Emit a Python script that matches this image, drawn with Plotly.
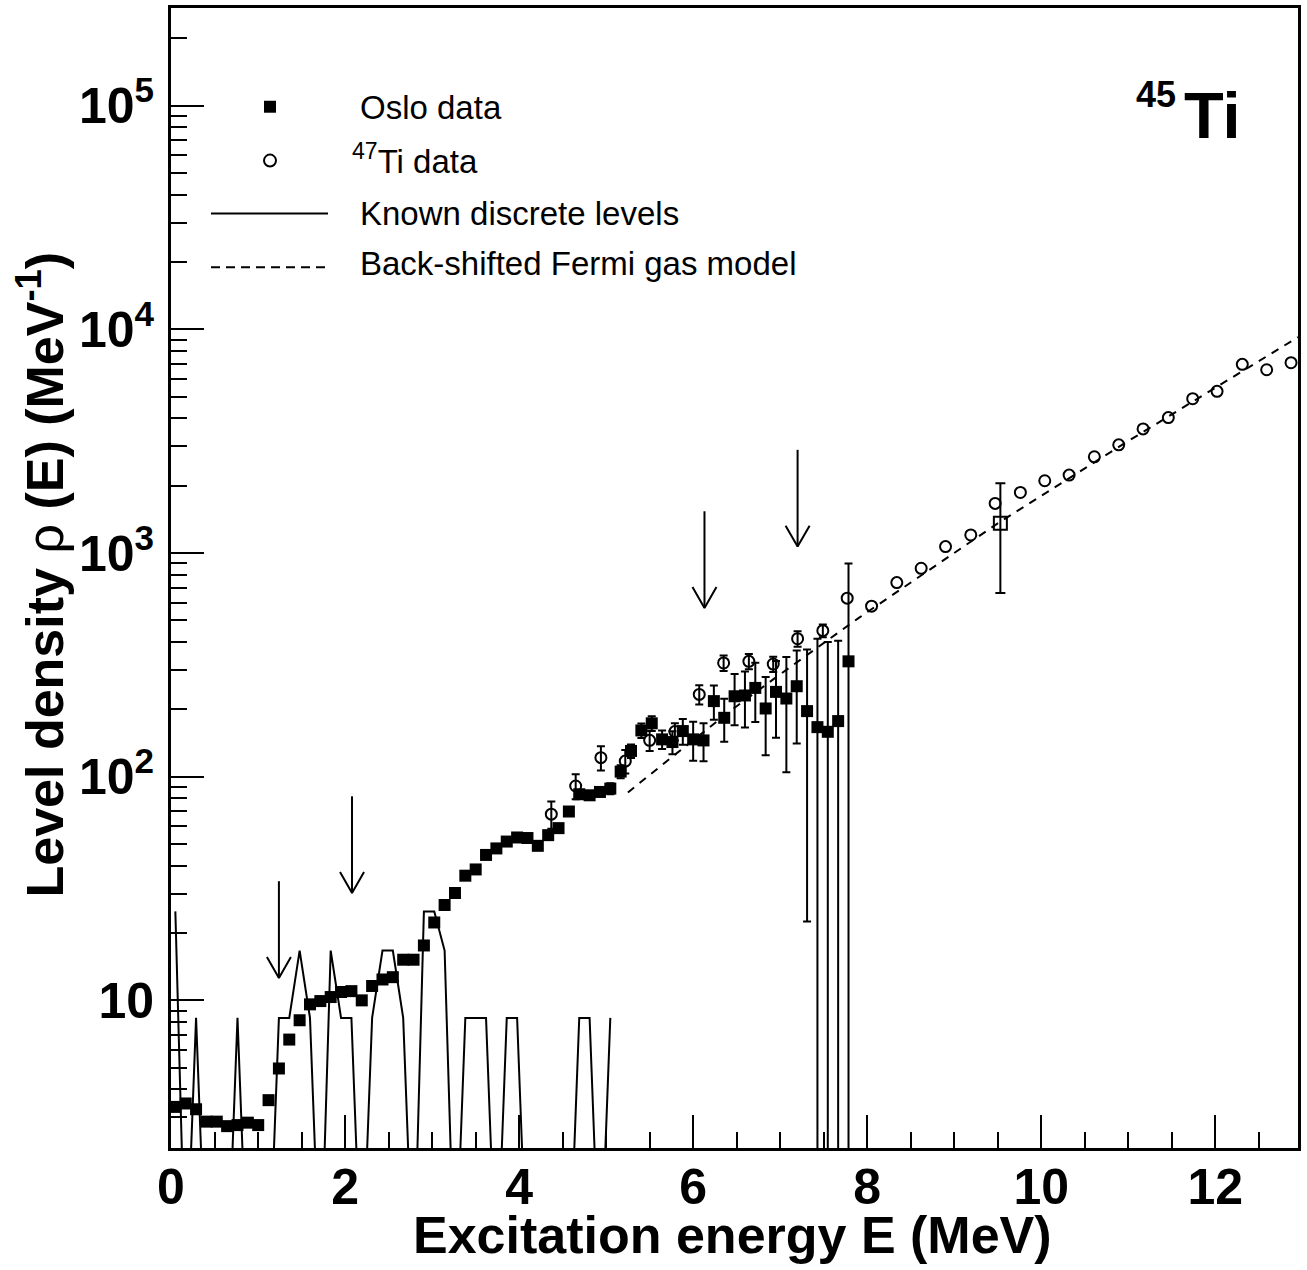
import plotly.graph_objects as go

# Oslo data (filled squares), 0.12 MeV bins
oslo_e = [0.050, 0.169, 0.288, 0.407, 0.526, 0.645, 0.764, 0.883, 1.002, 1.121,
          1.240, 1.359, 1.478, 1.597, 1.716, 1.835, 1.954, 2.073, 2.192, 2.311,
          2.430, 2.549, 2.668, 2.787, 2.906, 3.025, 3.144, 3.263, 3.382, 3.501,
          3.620, 3.739, 3.858, 3.977, 4.096, 4.215, 4.334, 4.453, 4.572, 4.691,
          4.810, 4.929, 5.048, 5.167, 5.286, 5.405, 5.524, 5.643, 5.762, 5.881,
          6.000, 6.119, 6.238, 6.357, 6.476, 6.595, 6.714, 6.833, 6.952, 7.071,
          7.190, 7.309, 7.428, 7.547, 7.666, 7.785]
oslo_rho = [3.34, 3.46, 3.26, 2.87, 2.87, 2.74, 2.77, 2.84, 2.77, 3.58,
            4.96, 6.68, 8.15, 9.6, 9.93, 10.35, 10.9, 11.0, 10.0, 11.6,
            12.4, 12.7, 15.2, 15.2, 17.6, 22.3, 26.7, 30.2, 36.1, 38.5,
            44.7, 47.8, 51.3, 53.5, 53.2, 49.1, 54.8, 58.9, 69.9, 83.5,
            82.6, 85.5, 88.5, 105.4, 130.4, 161, 173.3, 146.9, 142.9, 160,
            146.9, 145.3, 217.8, 183.4, 229, 230.8, 249.5, 201.9, 239.5, 223.7,
            253.9, 196.5, 166.6, 158.8, 177.3, 328]
oslo_err = [0, 0, 0, 0, 0, 0, 0, 0, 0, 0,
            0, 0, 0, 0, 0, 0, 0, 0, 0, 0,
            0, 0, 0, 0, 0, 0, 0, 0, 0, 0,
            0, 0, 0, 0, 0, 0, 0, 0, 0, 0,
            0, 4, 5, 7, 9, 12, 13, 14, 17, 21,
            29, 28, 38, 40, 59, 65, 74, 77, 90, 119,
            113, 174, 247, 241, 228, 570]

# 47Ti data (open circles); error bars only visible on the first ones
ti47_e = [4.37, 4.65, 4.94, 5.22, 5.50, 5.79, 6.07, 6.35, 6.64, 6.92,
          7.20, 7.49, 7.77, 8.05, 8.34, 8.62, 8.90, 9.19, 9.47, 9.76,
          10.04, 10.32, 10.61, 10.89, 11.17, 11.46, 11.74, 12.02, 12.31, 12.59,
          12.87]
ti47_rho = [68.0, 90.9, 121.7, 117.5, 145.4, 159.2, 233.3, 322.6, 328, 319,
            414, 449.8, 628.6, 579, 738, 855, 1069, 1205, 1667, 1866,
            2105, 2232, 2694, 3047, 3591, 4035, 4899, 5287, 6980, 6602,
            7096]
ti47_err = [9.5, 11.7, 15, 14, 15, 14, 23, 26, 26, 25, 33, 30]

# level density at Bn (open square)
bn_e = [9.53]
bn_rho = [1358]
bn_err = [695]

# known discrete levels, same bins as the Oslo data (0 = empty bin)
known_rho = [25.0, 0, 8.35, 0, 0, 0, 8.35, 0, 0, 0,
             8.35, 8.35, 16.7, 8.35, 0, 16.7, 8.35, 8.35, 0, 8.35,
             16.7, 16.7, 8.35, 0, 25.0, 25.0, 16.7, 0, 8.35, 8.35,
             8.35, 0, 8.35, 8.35, 0, 0, 0, 0, 0, 8.35,
             8.35, 0, 8.35]

# back-shifted Fermi gas model
bsfg_e = [5.25, 5.75, 6.45, 7.0, 7.9, 9.5, 10.9, 12.95]
bsfg_rho = [85, 122, 200, 287, 512, 1358, 3000, 9230]

# arrows: energy and value at the arrow tip
arrow_e = [1.24, 2.08, 6.13, 7.20]
arrow_tip = [12.6, 30.2, 568, 1069]

FONT = "Liberation Sans, Arial, Helvetica, sans-serif"
X_RANGE = [0, 12.95]
Y_RANGE = [0.340, 5.437]

# plot frame in pixels
L, T, W, H = 171, 5, 1127, 1143


def px(xp):
    return (xp - L) / W


def py(yp):
    return (T + H - yp) / H


decade_px = H / (Y_RANGE[1] - Y_RANGE[0])
mev_px = W / X_RANGE[1]

fig = go.Figure()

# discrete levels: empty bins drawn below the frame
known_plot = [r if r > 0 else 0.5 for r in known_rho]
fig.add_trace(go.Scatter(x=oslo_e[:len(known_rho)], y=known_plot, mode='lines',
                         line=dict(color='black', width=2)))

fig.add_trace(go.Scatter(x=bsfg_e, y=bsfg_rho, mode='lines',
                         line=dict(color='black', width=2, dash='8px,7px')))

n = len(ti47_err)
fig.add_trace(go.Scatter(x=ti47_e[:n], y=ti47_rho[:n], mode='markers',
                         marker=dict(symbol='circle-open', size=11, color='black',
                                     line=dict(width=2, color='black')),
                         error_y=dict(type='data', array=ti47_err, thickness=2, width=4,
                                      color='black')))
fig.add_trace(go.Scatter(x=ti47_e[n:], y=ti47_rho[n:], mode='markers',
                         marker=dict(symbol='circle-open', size=11, color='black',
                                     line=dict(width=2, color='black'))))

fig.add_trace(go.Scatter(x=oslo_e, y=oslo_rho, mode='markers',
                         marker=dict(symbol='square', size=12, color='black'),
                         error_y=dict(type='data', array=oslo_err, thickness=2, width=4,
                                      color='black')))

fig.add_trace(go.Scatter(x=bn_e, y=bn_rho, mode='markers',
                         marker=dict(symbol='square-open', size=13, color='black',
                                     line=dict(width=2, color='black')),
                         error_y=dict(type='data', array=bn_err, thickness=2, width=5,
                                      color='black')))

# arrows with open heads
shaft = 10 ** (97 / decade_px)
head = 10 ** (21 / decade_px)
hw = 12 / mev_px
ax, ay = [], []
for e, tip in zip(arrow_e, arrow_tip):
    ax += [e, e, None, e - hw, e, e + hw, None]
    ay += [tip * shaft, tip, None, tip * head, tip, tip * head, None]
fig.add_trace(go.Scatter(x=ax, y=ay, mode='lines', line=dict(color='black', width=2)))

# legend drawn by hand
shapes = [
    dict(type='rect', xref='paper', yref='paper', x0=px(264), x1=px(276), y0=py(110), y1=py(98),
         fillcolor='black', line=dict(width=0)),
    dict(type='circle', xref='paper', yref='paper', x0=px(264), x1=px(276), y0=py(164), y1=py(152),
         line=dict(color='black', width=2)),
    dict(type='line', xref='paper', yref='paper', x0=px(211), x1=px(328), y0=py(211), y1=py(211),
         line=dict(color='black', width=2)),
    dict(type='line', xref='paper', yref='paper', x0=px(211), x1=px(328), y0=py(265), y1=py(265),
         line=dict(color='black', width=2, dash='9px,6px')),
]

leg_font = dict(family=FONT, size=33, color='black')
annotations = [
    dict(text='Oslo data', x=px(358), y=py(105), xanchor='left', yanchor='middle', font=leg_font),
    dict(text='<sup>47</sup>Ti data', x=px(350), y=py(156), xanchor='left', yanchor='middle', font=leg_font),
    dict(text='Known discrete levels', x=px(358), y=py(211), xanchor='left', yanchor='middle', font=leg_font),
    dict(text='Back-shifted Fermi gas model', x=px(358), y=py(261), xanchor='left', yanchor='middle',
         font=leg_font),
    # nucleus label: mass number and symbol set separately
    dict(text='<b>Ti</b>', x=px(1243), y=py(113), xanchor='right', yanchor='middle',
         font=dict(family=FONT, size=65, color='black')),
    dict(text='<b>45</b>', x=px(1178), y=py(92), xanchor='right', yanchor='middle',
         font=dict(family=FONT, size=36, color='black')),
    dict(text='<b>Excitation energy E (MeV)</b>', x=px(732), y=py(1235), xanchor='center', yanchor='middle',
         font=dict(family=FONT, size=52, color='black')),
    dict(text='<b>Level density </b>\u03c1<b> (E) (MeV<sup>-1</sup>)</b>', x=px(41), y=py(573),
         xanchor='center', yanchor='middle', textangle=-90,
         font=dict(family=FONT, size=52, color='black')),
]
for a in annotations:
    a.update(xref='paper', yref='paper', showarrow=False)

y_minor = [m * 10 ** k for k in range(0, 6) for m in range(2, 10)
           if Y_RANGE[0] < m * 10 ** k < 10 ** Y_RANGE[1]]

fig.update_xaxes(range=X_RANGE, showline=True, linewidth=3, linecolor='black', mirror=True,
                 showgrid=False, zeroline=False,
                 ticks='inside', tickmode='linear', tick0=0, dtick=2, ticklen=33, tickwidth=2,
                 tickcolor='black',
                 minor=dict(ticks='inside', dtick=0.5, ticklen=16, tickwidth=2, tickcolor='black'),
                 tickfont=dict(family=FONT, size=50, color='black', weight='bold'),
                 ticklabelstandoff=-7)
fig.update_yaxes(type='log', range=Y_RANGE, showline=True, linewidth=3, linecolor='black', mirror=True,
                 showgrid=False, zeroline=False,
                 ticks='inside', tickmode='array', tickvals=[10, 100, 1e3, 1e4, 1e5],
                 ticktext=['10', '10<sup>2</sup>', '10<sup>3</sup>', '10<sup>4</sup>', '10<sup>5</sup>'],
                 ticklen=33, tickwidth=2, tickcolor='black',
                 minor=dict(ticks='inside', tickmode='array', tickvals=y_minor, ticklen=16, tickwidth=2,
                            tickcolor='black'),
                 tickfont=dict(family=FONT, size=50, color='black', weight='bold'),
                 ticklabelstandoff=4)

fig.update_layout(width=1307, height=1270, showlegend=False,
                  margin=dict(l=L, r=1307 - L - W, t=T, b=1270 - T - H),
                  plot_bgcolor='white', paper_bgcolor='white',
                  shapes=shapes, annotations=annotations)

# page body has a default 8px margin; drop it so the figure sits at the window corner
fig.write_html("out.html", config={'displayModeBar': False},
               post_script="document.body.style.margin='0px';")
